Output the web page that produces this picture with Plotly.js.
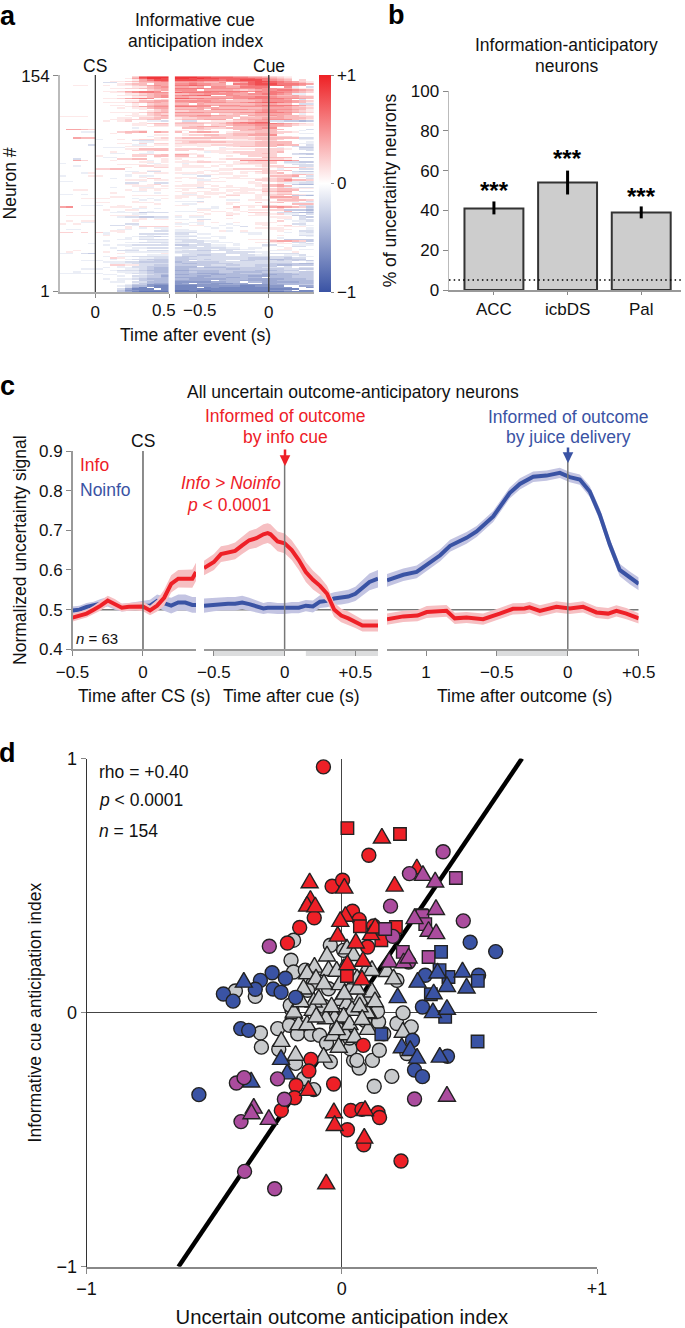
<!DOCTYPE html>
<html><head><meta charset="utf-8">
<script src="https://cdn.plot.ly/plotly-3.0.0.min.js"></script>
<style>html,body{margin:0;padding:0;background:#fff}#g{width:685px;height:1328px}</style>
</head><body><div id="g"></div>
<script>
// Panel a: one string per neuron, top row (154) first. Left part = CS window, right part = cue window.
// . = 0, digits 1-9 = +0.1..+0.9, letters a-i = -0.1..-0.9
const heatRows = [
"..........38999 9998877766554321...",
".........147998 9989887777766432...",
"..........14688 8887776778886543.2.",
".......11234456 5555444566788765421",
"......bb..13344 4454335.34787765431",
"........1233.44 5565544.66788866654",
"..11..1.1123454 667654433567777654.",
"..........11345 4434.55446666..5a.b",
".......11223344 6666555555565544211",
"............234 555.444432345566543",
"......112456651 4555666666565655432",
".......11356655 7666654554.55665432",
".........112344 3344555544556654aa.",
"........1123345 56677..554444433421",
"..........11345 4433344455566544433",
"......1124565.. 7766555555666665543",
"...........1.12 3334443.33445554.b.",
".........113344 5555544333345555432",
"......111233443 4454555445667765431",
"..........1.233 33.4333333344433.bb",
".......11.1.344 5545545554456666542",
".........124455 66655.4445555554321",
"........1.11344 3334343333334444332",
"...........1.23 4444.55555445555431",
"............123 2233333333345544321",
".......11112344 5555444445566665432",
"..........1.232 33333.2233344444.a.",
".........111234 444554433.444543321",
"1111......11123 3344433332233343322",
"........11.2233 12233333.3334443332",
".......1122233. 2333444.33445555321",
"......1.12..aab .bb..11122344bbccdc",
"...........1... 2332222456677.a....",
"..........11233 3333223455666654321",
"..........11.22 2222.22344455443211",
"............111 1234443.33344433...",
"..........a.... .3332223333455.....",
".4432.......... ...22...3344333...b",
"..........11... 11.1.....33333...a.",
"...aa...2334.43 3.3443.1222333221..",
".......1.2..... .1.....23334432..aa",
".............11 .1223322334445.....",
"............a.. ....1222221222221..",
"..433........12 23333332222333333bb",
".....a..1.12211 11111...1123332..aa",
"..........bbb11 22222111111122.....",
"...........aa.. 1233333222233333..a",
"........11.2.22 2221111122233333.aa",
"....b.....aa.11 11111222222333433.b",
".........1111.. 1..11..1233333..bbb",
"......aaa...... ......a.......a..cc",
".........113333 2222..1111122221.bb",
"..........22233 22.1111....2222...b",
".......1....a.. ....a1112222223....",
".......aa..aa.. 111...11122232..bcc",
"..........22223 4411.....22222..bbc",
".....1....22.33 33.2...1..2222.....",
"......aa.....1. 11111.......3333.cc",
"..b.....2233..1 1.....1222222221...",
"..42...1....a.1 .1.1.....55666664..",
"...........11.1 1112211.112222.bbcc",
"a...........aa. .a......122222.aaa.",
"........1111.11 .1....1111112...bbb",
"..a........2211 .111.1.1...1222..bb",
".........1...22 11111.......1123321",
".....2233...... 1.....1122222.a..bb",
"............11. 1...1111....2223...",
".........aa.bb. ...1.1...11222..bcc",
"...a1.....11.11 1111..11.1.1223.aaa",
".........a..... .aa.1111.....112332",
"a...11...a.aa.. ...bb...11...3334.b",
"...........1... 111...111...1122aaa",
".......a....22. 1.11.1.111112233..b",
".........111.11 ...aa......22235332",
"aa.........a... 1..1111...1.1233aab",
".........bb..bb ...1......11..1aabb",
".........11.12. .1111......1234.cdd",
"..........111.1 1111.1.1...12343...",
".......a...aa.. ...b..1111..1.2aabb",
"...........1111 111111...11.2233211",
"..11.....1.1.1. .1...1.1111122333..",
"..........aa... 1..11..1.1..3344.bb",
".......1.....a. .11.111.111.1122...",
"aa.a........... .aa.11.11..1123321a",
"..........11111 1111...22..1122.ccd",
".......11...... 11.11.1....1.4443..",
"...1111...a.a.1 1..a.......1.2223..",
"...........a.a. .......aa.111.33332",
"..........1.... aaab.........1122.b",
".....11...111.. ...1...11..2.23.aaa",
".............1. .aa....1........333",
"...aaa..1...... 11.......1112211.bb",
"45.....111.1... .....a..3.1.445432c",
"..........aa.a. ...aaa.11.....2...b",
"......1..11.... ...11...1.11122cccd",
"........a...a.. aaa..11..1.....3..b",
".......aaaacbbb ...1...1..222.bbcdd",
"..........aa... ....1..11..1112aa.b",
".1111..1111.... 1.11...2..111...cc.",
"........abbccbb a.aa.........111.bc",
"...........1.aa .......1......11.b.",
"..........11.11 aa.bb..........a.bb",
".1.11.....1.... ...1..........2.aab",
"...aa.......... 1.aa.1..1..111...a.",
"1.1......bb.... aa.a...a...11...bb.",
".......bb.a.... ..11..a.a...1.12.aa",
".........1.2222 1...a....b.....111.",
".........1.a.aa .....a.a...1111...a",
".aa.....aa....a aa...........111..a",
".......11....bb aaa...1a.1....1..bb",
"22.2.2a.1...... bbb......aaa...a.ab",
"......a....bbbb bb.aa.....aa.....aa",
"......1.....a.. aaa...........1..bb",
"..........abbcb bbb..aa...........a",
".........a.aa.. aa.aa.a.......a....",
"........aa.bbbb bbb.......1111.cccc",
"......a.....aaa abbbaa.......34432c",
".........aabbbb bbbb.aaa...1111.bb.",
"....a.........a aa.bb...a.....11.ab",
"......a.aabbbbb ccbbbaa.a...bb..aaa",
".........a..... .bb.baa.....a.a.bb.",
".......a..aabbb bbbbbbbaa.aa...1...",
".........aa.... aa.bb.bbbaa...11.aa",
"..1.....bbb.bbb abbccbbb.....aaa...",
".1....1..aaaaaa bbbbb..bbbbaa...1..",
"aa.bc...1.....1 aabbbbbbbb..abbbb..",
"............aaa .bbccbb..bbaa..aab.",
"......a.aabbbbb bccbbbbbbbbbbbbb.aa",
".......21..aabb ccbbbbbbbbcccbbcbb.",
".......a.abbccc cccbcbbbbbcccddccc.",
"...aaa.....bbcc cc.bbbb..ccbbbcbcbc",
"......aaabbcccc dcccccbbbbbbbbbb..a",
".......aaabbbbb cddcccccbbbbbccccdd",
".......2211bbcc cccccbbccbbcccddccc",
"........a.bbccc ddd.cccbbbbccc.b...",
"......a.aabbcdd dddcdddcccccbbbb.bb",
"...aaa...aabcdd ddcccccddccccccbbcc",
".......abbbcddd eeddddcccccdddccc.a",
"..a.....aaabcdd ddcdddccddddcccbbcc",
"aaaaaa...abbccc dddeeedddcccddddccc",
"......aa...abcd eedddeedddddeedddcc",
"........a.bbcce dddeedddddeeedddccc",
"..........abccd eeeedddeeddd.dddccc",
"......a.aabcddd ddeeeeedddeeeeedddc",
"........a..ccdd eeeee.dddeeeeeddddd",
".......aa.bbddd fffffeedd.ddeeeeedd",
"..........acdee fe.eefffee..eeddddd",
".........accfff ffffffeeeffffeeddcc",
"........abddfgg gggffffffggffff..ee",
".........beg.gg ggg.gfgggggggfff..f",
"........beggg.g ggggggggggggggggg.",
"........cffgggg hhghhggggggggffe.gg",
"........ceghhhh hhhhhhhhhhhhhhhgggg"
];
const heatLeftStart = -0.225, heatRightStart = -0.625;
const heatStep = 0.05;

// Panel b
const regions = ['ACC','icbDS','Pal'];
const pctNeurons = [41,54,39];
const pctErrUp = [3.5,6,3];
const pctErrDown = [3,6,3];
const chanceLevel = 5;

// Panel c
const t1 = [-0.5,-0.45,-0.4,-0.35,-0.3,-0.25,-0.2,-0.15,-0.1,-0.05,0,0.05,0.1,0.15,0.2,0.25,0.3,0.35,0.376];
const info1 = [.48,.485,.49,.50,.51,.523,.515,.505,.507,.508,.508,.498,.51,.53,.565,.578,.578,.578,.595];
const infoSe1 = [.01,.01,.01,.01,.012,.012,.012,.01,.01,.01,.012,.012,.015,.02,.022,.022,.022,.023,.023];
const noinfo1 = [.498,.50,.507,.51,.515,.52,.512,.505,.507,.51,.51,.51,.522,.515,.51,.518,.518,.512,.512];
const noinfoSe1 = [.01,.01,.01,.01,.012,.012,.012,.01,.01,.01,.012,.015,.016,.018,.02,.02,.02,.02,.02];
const t2 = [-0.57,-0.5,-0.45,-0.4,-0.35,-0.3,-0.25,-0.2,-0.15,-0.12,-0.1,-0.05,0,0.05,0.1,0.15,0.2,0.25,0.3,0.35,0.4,0.45,0.5,0.55,0.6,0.66];
const info2 = [.605,.62,.64,.643,.648,.662,.675,.68,.69,.693,.69,.672,.667,.65,.625,.595,.575,.56,.54,.50,.485,.478,.47,.46,.46,.46];
const infoSe2 = [.018,.02,.02,.02,.021,.022,.023,.024,.025,.025,.025,.025,.025,.025,.025,.025,.024,.022,.02,.018,.017,.017,.016,.015,.015,.015];
const noinfo2 = [.51,.513,.515,.515,.515,.518,.514,.508,.503,.505,.505,.503,.503,.505,.505,.51,.508,.52,.522,.528,.53,.533,.54,.555,.57,.578];
const noinfoSe2 = [.018,.017,.017,.017,.017,.017,.016,.015,.014,.014,.014,.014,.014,.014,.014,.014,.015,.016,.016,.016,.017,.017,.018,.02,.021,.022];
const t3 = [-1.275,-1.16,-1.066,-0.995,-0.9,-0.83,-0.714,-0.643,-0.526,-0.41,-0.338,-0.244,-0.15,-0.056,0.014,0.085,0.155,0.225,0.296,0.366,0.437,0.5];
const noinfo3 = [.574,.588,.595,.613,.637,.661,.681,.697,.735,.794,.817,.835,.838,.845,.834,.828,.798,.74,.664,.60,.58,.565];
const noinfoSe3 = [.016,.016,.016,.015,.015,.015,.015,.014,.014,.014,.014,.013,.013,.013,.013,.013,.014,.015,.015,.016,.016,.016];
const tInfo3 = [-1.275,-1.16,-1.06,-0.995,-0.855,-0.797,-0.714,-0.597,-0.48,-0.387,-0.305,-0.27,-0.197,-0.08,0.014,0.108,0.202,0.284,0.343,0.413,0.5];
const info3 = [.476,.483,.485,.494,.497,.478,.48,.476,.49,.502,.503,.506,.497,.507,.503,.507,.493,.49,.497,.49,.478];
const infoSe3 = [.014,.014,.014,.015,.015,.014,.014,.014,.014,.014,.014,.014,.014,.014,.014,.014,.014,.014,.014,.014,.013];

// Panel d
const fitX = [-0.64,0.706], fitY = [-1,1];
const grayCircleX = [-.319,-.315,-.251,-.205,-.173,-.121,-.087,-.247,-.181,-.045,.046,.068,.12,.147,.196,.127,-.11,-.149,.216,.272,.255,.164,.144,.033,.059,.24,.14,-.195,-.189,-.199,-.189,-.417,-.339,-.045,.007,-.143,.216,-.113,-.134,-.052,-.202,-.071,-.02,.03,.09,-.06,.1];
const grayCircleY = [-.08,-.136,-.063,-.05,-.083,-.085,-.089,-.144,-.2,-.194,-.188,-.218,-.188,-.148,-.251,-.29,-.303,-.26,-.043,-.056,-.161,-.083,-.037,-.142,-.188,-.001,.005,.009,.285,.206,.16,.085,.064,.265,.245,.167,.127,.114,.088,.094,.029,.025,-.06,-.1,-.03,-.12,.05];
const grayTriX = [-.058,-.107,-.136,-.052,-.101,.02,.046,.007,.099,.118,.177,.203,-.008,.033,.118,.072,-.11,-.006,.02,.04,-.032,.105,-.188,-.114,.099,-.028,-.062,.007,-.169,-.136,-.035,.016,.103,-.237,-.181,-.071,-.012,.239,-.188,.06,-.15,-.07,-.02,.06,-.09,-.04,.01,.07,.13,-.16,-.1,.03,.08,-.02,.05];
const grayTriY = [.23,.186,.16,.173,.14,.258,.232,.18,.18,.173,.169,.14,.117,.101,.088,.055,.049,.055,.042,.016,-.004,.003,.003,.016,.007,-.014,-.017,-.01,-.041,-.041,-.083,-.08,-.059,-.106,-.161,-.168,-.129,-.07,.009,.1,.1,.12,.17,.14,.06,.03,.08,.03,.05,.05,-.01,-.04,-.02,-.06,-.09];
const blueCircleX = [.503,.603,.536,.327,-.273,-.319,-.221,-.339,-.269,-.238,-.464,-.426,-.181,.316,-.396,-.365,-.56,.277,.285,.316,.414];
const blueCircleY = [.277,.24,.147,.147,.157,.127,.135,.092,.093,.08,.073,.045,.06,.022,-.063,-.07,-.323,-.109,-.226,-.252,-.172];
const blueTriX = [-.384,.375,.473,.297,.412,.489,.219,.36,.357,.412,-.238,-.214,-.355,.235,.268,.295,.384];
const blueTriY = [.127,.163,.167,.127,.11,.104,.066,.081,.007,.02,-.177,-.234,-.266,-.131,-.142,-.172,-.168];
const blueSqX = [.389,.533,.418,.383,.349,.405,.155,.532];
const blueSqY = [.239,.125,.14,.167,.072,-.017,-.085,-.114];
const magCircleX = [.397,.265,.191,.476,.2,-.284,.262,.285,-.413,-.383,-.252,-.225,-.395,-.381,-.263];
const magCircleY = [.633,.547,.419,.361,.3,.261,.199,-.34,-.277,-.256,-.261,-.341,-.429,-.625,-.693];
const magTriX = [.318,.366,.369,.285,.34,.37,.186,.242,.262,.412,-.345,-.354,-.286];
const magTriY = [.547,.521,.413,.377,.327,.318,.206,.203,.222,-.322,-.369,-.391,-.413];
const magSqX = [.447,.316,.327,.17,.239,.34];
const magSqY = [.53,.381,.348,.329,.239,.219];
const redCircleX = [-.072,.106,-.038,.003,-.108,-.165,-.213,.042,.068,.101,.125,.084,-.121,-.129,-.179,-.032,-.185,-.237,.035,.079,.142,.148,.022,.086,.232];
const redCircleY = [.967,.619,.497,.521,.373,.335,.274,.399,.366,.258,.341,-.129,-.184,-.23,-.287,-.281,-.335,-.385,-.385,-.381,-.394,-.413,-.461,-.52,-.584];
const redTriX = [.157,-.126,.01,-.123,-.136,-.104,.294,.207,.014,-.006,-.016,.055,.114,.131,.022,.083,.079,-.131,-.031,-.028,.091,.088,-.061];
const redTriY = [.694,.518,.497,.449,.426,.423,.573,.505,.386,.366,.308,.281,.314,.34,.196,.209,.136,-.299,-.387,-.437,-.378,-.487,-.667];
const redSqX = [.022,.228,.071,.212,.02,.155,.31];
const redSqY = [.726,.703,.34,.337,.144,.285,.383];

const W = 685, H = 1328;
const FONT = 'Liberation Sans, Arial, sans-serif';
const TXT = 17.5, TICK = 17;
const RED = '#ee2027', BLUE = '#3a53a4', MAG = '#ab4c9e', GRAY = '#c8cacc';
const RED_BAND = '#f6bfc2', BLUE_BAND = '#c3c4e2';
const xd = (a,b)=>[a/W,b/W];
const yd = (t,b)=>[1-b/H,1-t/H];

function parseChar(c){
  if(c>='1'&&c<='9') return +c/10;
  if(c>='a'&&c<='i') return -(c.charCodeAt(0)-96)/10;
  return 0;
}
const zLeft=[],zRight=[];
heatRows.slice().reverse().forEach(r=>{
  const [l,rr]=r.split(' ');
  const a=[],b=[];
  for(let i=0;i<15;i++)a.push(parseChar(l[i]||'.'));
  for(let i=0;i<19;i++)b.push(parseChar(rr[i]||'.'));
  zLeft.push(a);zRight.push(b);
});

const scale=[[0,BLUE],[0.5,'#ffffff'],[1,'#ee2024']];
const traces=[];
traces.push({type:'heatmap',z:zLeft,x0:heatLeftStart,dx:heatStep,y0:1,dy:1,xaxis:'x',yaxis:'y',zmin:-1,zmax:1,colorscale:scale,zsmooth:false,hoverinfo:'skip',
 showscale:true,colorbar:{thickness:12,thicknessmode:'pixels',len:217,lenmode:'pixels',x:319/W,xanchor:'left',y:1-292/H,yanchor:'bottom',xpad:0,ypad:0,outlinewidth:0,
 tickvals:[-1,0,1],ticktext:['\u22121','0','+1'],ticks:'outside',ticklen:3,tickcolor:'#888',tickfont:{family:FONT,size:TICK,color:'#111'}}});
traces.push({type:'heatmap',z:zRight,x0:heatRightStart,dx:0.0507,y0:1,dy:1,xaxis:'x2',yaxis:'y',zmin:-1,zmax:1,colorscale:scale,zsmooth:false,showscale:false,hoverinfo:'skip'});

traces.push({type:'bar',x:[0,1,2],y:pctNeurons,width:0.8,xaxis:'x3',yaxis:'y2',marker:{color:'#cdcdcd',line:{color:'#333',width:2}},
 error_y:{type:'data',symmetric:false,array:pctErrUp,arrayminus:pctErrDown,thickness:3,width:0,color:'#000'},hoverinfo:'skip'});

function band(xa,m,s,col,ax){
  const xs=xa.concat(xa.slice().reverse());
  const ys=m.map((v,i)=>v+s[i]).concat(m.map((v,i)=>v-s[i]).reverse());
  traces.push({type:'scatter',mode:'lines',x:xs,y:ys,fill:'toself',fillcolor:col,line:{width:0},xaxis:ax,yaxis:'y3',hoverinfo:'skip'});
}
function ln(xa,m,col,ax){traces.push({type:'scatter',mode:'lines',x:xa,y:m,line:{color:col,width:4},xaxis:ax,yaxis:'y3',hoverinfo:'skip'});}
band(t1,noinfo1,noinfoSe1,BLUE_BAND,'x4');ln(t1,noinfo1,BLUE,'x4');
band(t1,info1,infoSe1,RED_BAND,'x4');ln(t1,info1,RED,'x4');
band(t2,noinfo2,noinfoSe2,BLUE_BAND,'x5');ln(t2,noinfo2,BLUE,'x5');
band(t2,info2,infoSe2,RED_BAND,'x5');ln(t2,info2,RED,'x5');
band(t3,noinfo3,noinfoSe3,BLUE_BAND,'x6');ln(t3,noinfo3,BLUE,'x6');
band(tInfo3,info3,infoSe3,RED_BAND,'x6');ln(tInfo3,info3,RED,'x6');

traces.push({type:'scatter',mode:'lines',x:fitX,y:fitY,line:{color:'#000',width:4.5},xaxis:'x7',yaxis:'y4',hoverinfo:'skip'});
function pts(xa,ya,col,sym,size){traces.push({type:'scatter',mode:'markers',x:xa,y:ya,xaxis:'x7',yaxis:'y4',hoverinfo:'skip',cliponaxis:false,
 marker:{color:col,symbol:sym,size:size,line:{color:'#222',width:1.4}}});}
const CS=14,TS=14.5,SS=12.5;
pts(grayCircleX,grayCircleY,GRAY,'circle',CS);
pts(grayTriX,grayTriY,GRAY,'triangle-up',TS);
pts(blueCircleX,blueCircleY,BLUE,'circle',CS);
pts(blueSqX,blueSqY,BLUE,'square',SS);
pts(blueTriX,blueTriY,BLUE,'triangle-up',TS);
pts(redCircleX,redCircleY,RED,'circle',CS);
pts(redSqX,redSqY,RED,'square',SS);
pts(redTriX,redTriY,RED,'triangle-up',TS);
pts(magCircleX,magCircleY,MAG,'circle',CS);
pts(magSqX,magSqY,MAG,'square',SS);
pts(magTriX,magTriY,MAG,'triangle-up',TS);

const tickF=(s)=>({family:FONT,size:s||TICK,color:'#111'});
const A=(o)=>Object.assign({showgrid:false,zeroline:false,showline:true,linecolor:'#999',linewidth:1.5,ticks:'outside',ticklen:5,tickcolor:'#888',tickwidth:1,tickfont:tickF(),fixedrange:true},o);
const ttl=(text,standoff,size)=>({text,standoff,font:{family:FONT,size:size||TXT,color:'#111'}});

const anns=[];
const F=(c,s)=>({family:FONT,size:s||TXT,color:c||'#111'});
function T(text,px,py,o){anns.push(Object.assign({text,x:px/W,y:1-py/H,xref:'paper',yref:'paper',showarrow:false,xanchor:'center',yanchor:'middle',font:F()},o||{}));}
const B=()=>({family:FONT,size:27,color:'#000'});
T('<b>a</b>',8,16,{font:B()});T('<b>b</b>',396,15,{font:B()});T('<b>c</b>',8,386,{font:B()});T('<b>d</b>',8,753,{font:B()});
// a
T('Informative cue',195,20);T('anticipation index',195,41);T('CS',95,66);T('Cue',269,66);T('Time after event (s)',195,335);
T('0.5',164,310,{font:F('#111',TICK)});T('\u22120.5',200,310,{font:F('#111',TICK)});
// b
T('Information-anticipatory',566,45);T('neurons',566,66);
[190,158,196].forEach((py,i)=>T('***',[494,567.5,641][i],py,{font:{family:FONT,size:24,color:'#000',weight:700}}));
// c
T('All uncertain outcome-anticipatory neurons',353,392);
T('CS',143,441);
T('Informed of outcome',285,416,{font:F(RED)});
T('by info cue',285,437,{font:F(RED)});
T('Informed of outcome',568,417,{font:F(BLUE)});
T('by juice delivery',568,437,{font:F(BLUE)});
T('Info',78,465,{font:F(RED),xanchor:'left'});
T('Noinfo',78,490,{font:F(BLUE),xanchor:'left'});
T('<i>Info &gt; Noinfo</i>',231,483,{font:F(RED)});
T('<i>p</i> &lt; 0.0001',229,505,{font:F(RED)});
T('<i>n</i> = 63',97,638,{font:F('#111',15)});
T('Time after CS (s)',144,696);
T('Time after cue (s)',291,696);
T('Time after outcome (s)',524,696);
anns.push({x:285/W,y:1-466/H,xref:'paper',yref:'paper',ax:285/W,ay:1-448/H,axref:'paper',ayref:'paper',showarrow:true,arrowhead:2,arrowsize:0.85,arrowwidth:2.5,arrowcolor:RED,text:''});
anns.push({x:568/W,y:1-463/H,xref:'paper',yref:'paper',ax:568/W,ay:1-446/H,axref:'paper',ayref:'paper',showarrow:true,arrowhead:2,arrowsize:0.85,arrowwidth:2.5,arrowcolor:BLUE,text:''});
// d
T('rho = +0.40',97,772,{xanchor:'left'});
T('<i>p</i> &lt; 0.0001',97,800,{xanchor:'left'});
T('<i>n</i> = 154',97,831,{xanchor:'left'});

function vline(xa,t,b,col,w){return {type:'line',xref:xa,yref:'paper',x0:0,x1:0,y0:1-b/H,y1:1-t/H,line:{color:col,width:w},layer:'above'};}
function hline(xa,a,b){return {type:'line',xref:xa,yref:'y3',x0:a,x1:b,y0:0.5,y1:0.5,line:{color:'#777',width:1.5},layer:'below'};}
function strip(xa,a,b){return {type:'rect',xref:xa,yref:'paper',x0:a,x1:b,y0:1-656/H,y1:1-650/H,fillcolor:'#dcddde',line:{width:0},layer:'below'};}
const shapes=[
 vline('x',75,292,'#444',1.3),vline('x2',75,292,'#444',1.5),
 vline('x4',451,649,'#666',1.5),vline('x5',462,649,'#777',1.5),vline('x6',458,649,'#777',1.5),
 hline('x4',-0.5,0.376),hline('x5',-0.57,0.66),hline('x6',-1.275,0.5),
 strip('x5',-0.5,0),strip('x5',0.15,0.66),strip('x6',-0.5,0),
 {type:'line',xref:'x3',yref:'y2',x0:-0.61,x1:2.54,y0:chanceLevel,y1:chanceLevel,line:{color:'#000',width:1.5,dash:'1.5px,3.2px'},layer:'above'}
];

const layout={width:W,height:H,margin:{l:0,r:0,t:0,b:0},paper_bgcolor:'#fff',plot_bgcolor:'rgba(0,0,0,0)',showlegend:false,font:{family:FONT},
 annotations:anns,shapes,
 // a
 xaxis:A({domain:xd(60,169),range:[-0.24,0.5],anchor:'y',tickvals:[0,0.5],ticktext:['0',' '],ticklen:4,linewidth:1.5,linecolor:'#aaa'}),
 xaxis2:A({domain:xd(174.7,314),range:[-0.65,0.313],anchor:'y',tickvals:[-0.5,0],ticktext:[' ','0'],ticklen:4,linecolor:'#aaa'}),
 yaxis:A({domain:yd(75,292),range:[0.5,154.5],anchor:'x',tickvals:[1,154],ticktext:['1','154'],linecolor:'#bbb',linewidth:2,title:ttl('Neuron #',9)}),
 // b
 xaxis3:A({domain:xd(449,681),range:[-0.61,2.54],anchor:'y2',tickvals:[0,1,2],ticktext:regions,ticklen:3}),
 yaxis2:A({domain:yd(91,290),range:[0,100],anchor:'x3',tickvals:[0,20,40,60,80,100],linecolor:'#bbb',linewidth:1.5,title:ttl('% of uncertainty neurons',9)}),
 // c
 xaxis4:A({domain:xd(72.5,196),range:[-0.5,0.376],anchor:'y3',tickvals:[-0.5,0],ticktext:['\u22120.5','0'],ticklabelstandoff:2}),
 xaxis5:A({domain:xd(204,378),range:[-0.57,0.66],anchor:'y3',tickvals:[-0.5,0,0.5],ticktext:['\u22120.5','0','+0.5'],ticklabelstandoff:2}),
 xaxis6:A({domain:xd(387,638.7),range:[-1.275,0.5],anchor:'y3',tickvals:[-1,-0.5,0,0.5],ticktext:['1','\u22120.5','0','+0.5'],ticklabelstandoff:2}),
 yaxis3:A({domain:yd(451,649.3),range:[0.4,0.9],anchor:'x4',tickvals:[0.4,0.5,0.6,0.7,0.8,0.9],tickformat:'.1f',title:ttl('Normalized uncertainty signal',8)}),
 // d
 xaxis7:A({domain:xd(86.6,597),range:[-1,1],anchor:'y4',tickvals:[-1,0,1],ticktext:['\u22121','0','+1'],zeroline:true,zerolinecolor:'#444',zerolinewidth:1,linecolor:'#888',linewidth:2,tickfont:tickF(18),title:ttl('Uncertain outcome anticipation index',14,20.3)}),
 yaxis4:A({domain:yd(758.5,1266.7),range:[-1,1],anchor:'x7',tickvals:[-1,0,1],ticktext:['\u22121','0','1'],zeroline:true,zerolinecolor:'#444',zerolinewidth:1,linecolor:'#333',linewidth:1,tickfont:tickF(18),title:ttl('Informative cue anticipation index',10,17.5)})
};
Plotly.newPlot('g',traces,layout,{displayModeBar:false,staticPlot:true}).then(()=>{
  // Plotly's triangle-up is flatter than the reference's equilateral markers: keep the library's placement, redraw the outline only.
  document.querySelectorAll('.scatterlayer path.point').forEach(p=>{
    const d=p.getAttribute('d')||'';
    if(/^M-[\d.]+,[\d.]+H[\d.]+L0,-[\d.]+Z$/.test(d)) p.setAttribute('d','M-8.5,6.8H8.5L0,-8Z');
  });
});
</script></body></html>
